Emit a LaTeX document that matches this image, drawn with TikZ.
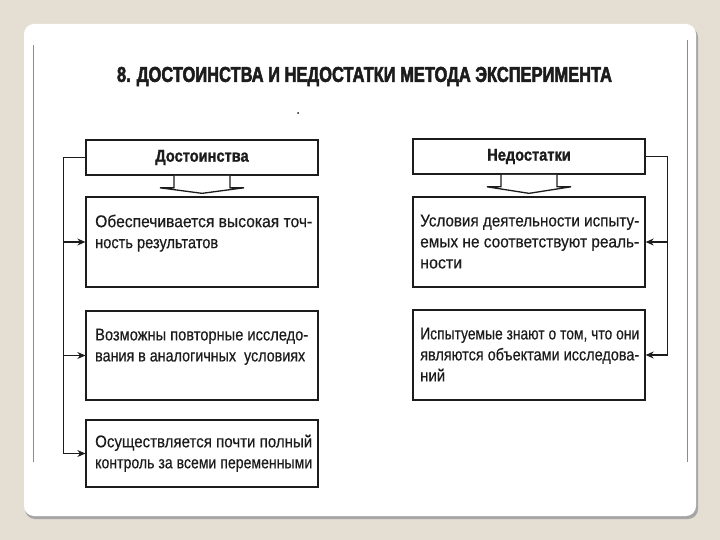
\documentclass[tikz,border=0pt]{standalone}
\usepackage{graphicx}
\usepackage{fontspec}
\setmainfont{Liberation Sans}[FakeStretch=0.86, FakeBold=0.4]
\newfontfamily\titlefont{Liberation Sans}[FakeStretch=0.82, FakeBold=2.5]
\newfontfamily\headfont{Liberation Sans}[FakeStretch=0.86, FakeBold=1.2]
\usetikzlibrary{arrows.meta,calc}
\definecolor{bgbeige}{HTML}{E4DED3}
\definecolor{ink}{HTML}{1C1C1C}
\newcommand{\fitline}[2]{\resizebox{#1}{\height}{#2}}
\newcommand{\jl}[1]{\fitline{217pt}{#1}}
\newcommand{\jr}[1]{\fitline{219pt}{#1}}
\tikzset{
  hbox/.style={draw=ink, line width=1.6pt, minimum width=232pt, minimum height=35pt, inner sep=0pt,
    font=\headfont\bfseries\fontsize{17}{19}\selectfont, text=ink},
  ibox/.style={draw=ink, line width=1.3pt, minimum width=232pt, inner sep=0pt},
  itext/.style={anchor=north west, inner sep=0pt, align=left, text=ink,
    font=\fontsize{17}{21}\selectfont},
  conn/.style={draw=ink, line width=1.1pt},
  tip/.style={-{Stealth[length=8pt,width=7pt]}},
  blockarrow/.style={draw=ink, line width=1.3pt, fill=white, line join=miter}
}
\begin{document}
\begin{tikzpicture}[x=1pt,y=-1pt]
\useasboundingbox (0,0) rectangle (720,540);
\fill[bgbeige] (0,0) rectangle (720,540);
% panel
\fill[black!35, rounded corners=10pt] (25,27) rectangle (698,519);
\fill[white, rounded corners=10pt] (24,24) rectangle (696,516);
\draw[black!45, line width=0.8pt] (33,45) -- (33,462);
\draw[black!45, line width=0.8pt] (687,40) -- (687,462);

% title
\node[text=ink, inner sep=0pt] (title) at (364.5,76.5)
  {\resizebox{495pt}{15pt}{\titlefont\bfseries 8. ДОСТОИНСТВА И НЕДОСТАТКИ МЕТОДА ЭКСПЕРИМЕНТА}};
\fill[ink] (298,113) circle (1pt);

% headers
\node[hbox] (h1) at (202,157.5) {Достоинства};
\node[hbox] (h2) at (529,156.5) {Недостатки};

% boxes
\node[ibox, minimum height=90pt] (l1) at (202,242) {};
\node[ibox, minimum height=89pt] (l2) at (202,355.5) {};
\node[ibox, minimum height=67pt] (l3) at (202,453.5) {};
\node[ibox, minimum height=90pt] (r1) at (529,242) {};
\node[ibox, minimum height=90pt] (r2) at (529,355) {};

% texts
\node[itext] (t1) at (95,214.5) {\jl{Обеспечивается высокая точ-}\\\fitline{123pt}{ность результатов}};
\node[itext] (t2) at (95,328.5) {\fitline{213pt}{Возможны повторные исследо-}\\\fitline{210pt}{вания в аналогичных\ \ условиях}};
\node[itext] (t3) at (95,434.5) {\jl{Осуществляется почти полный}\\\jl{контроль за всеми переменными}};
\node[itext] (t4) at (420,214.5) {\jr{Условия деятельности испыту-}\\\jr{емых не соответствуют реаль-}\\\fitline{42pt}{ности}};
\node[itext] (t5) at (420,327.5) {\jr{Испытуемые знают о том, что они}\\\jr{являются объектами исследова-}\\\fitline{25pt}{ний}};

% block arrows
\foreach \h/\b in {h1/l1, h2/r1}{
  \draw[blockarrow] ($(\h.south)+(-28,0)$) -- ++(0,12) -- ++(-14,0)
    -- ($(\b.north)+(0,-3)$) -- ($(\h.south)+(42,12)$) -- ++(-14,0) -- ($(\h.south)+(28,0)$);
}

% left connectors
\draw[conn, tip] (h1.west) -- ++(-22,0) coordinate (lc) |- (l3.west);
\draw[conn, tip] (lc |- l1.west) -- (l1.west);
\draw[conn, tip] (lc |- l2.west) -- (l2.west);

% right connectors
\draw[conn, tip] (h2.east) -- ++(22,0) coordinate (rc) |- (r2.east);
\draw[conn, tip] (rc |- r1.east) -- (r1.east);
\end{tikzpicture}
\end{document}
